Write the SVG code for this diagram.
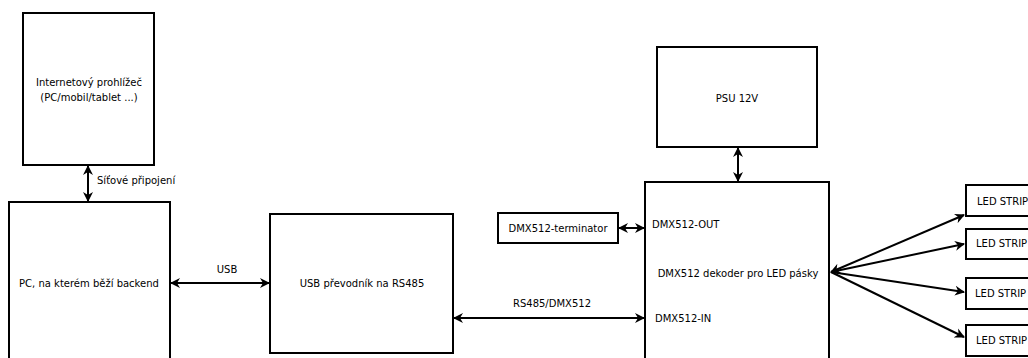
<svg xmlns="http://www.w3.org/2000/svg" width="1028" height="358" viewBox="0 0 1028 358">
<style>
.box{fill:#fff;stroke:#000;stroke-width:2}
.t{font-family:"DejaVu Sans",sans-serif;font-size:10px;fill:#000}
.c{text-anchor:middle}
.ln{stroke:#000;stroke-width:2;fill:none;marker-start:url(#ah);marker-end:url(#ah)}
.ln1{stroke:#000;stroke-width:2;fill:none;marker-end:url(#ah)}
</style>
<defs>
<marker id="ah" viewBox="0 0 10 10" refX="9" refY="5" markerWidth="10" markerHeight="11" markerUnits="userSpaceOnUse" orient="auto-start-reverse">
<path d="M0,0 L10,5 L0,10 L3,5 z" fill="#000"/>
</marker>
</defs>
<rect width="1028" height="358" fill="#fff"/>
<g id="connectors">
<line class="ln" x1="88" y1="166" x2="88" y2="201"/>
<text class="t" x="97" y="184">Síťové připojení</text>
<line class="ln" x1="171" y1="283" x2="269" y2="283"/>
<text class="t c" x="227" y="273">USB</text>
<line class="ln" x1="454" y1="318" x2="644" y2="318"/>
<text class="t c" x="552" y="307">RS485/DMX512</text>
<line class="ln" x1="619" y1="228" x2="644" y2="228"/>
<line class="ln" x1="738" y1="148" x2="738" y2="181"/>
<line class="ln" x1="831" y1="272" x2="964" y2="215"/>
<line class="ln1" x1="831" y1="272" x2="964" y2="244"/>
<line class="ln1" x1="831" y1="272" x2="964" y2="292"/>
<line class="ln1" x1="831" y1="272" x2="964" y2="337"/>
</g>
<g id="browser">
<rect class="box" x="23" y="13" width="131" height="152"/>
<text class="t c" x="89" y="86">Internetový prohlížeč</text>
<text class="t c" x="89" y="101">(PC/mobil/tablet ...)</text>
</g>
<g id="pc">
<rect class="box" x="9" y="202" width="161" height="170"/>
<text class="t c" x="89" y="287">PC, na kterém běží backend</text>
</g>
<g id="usb">
<rect class="box" x="270" y="214" width="183" height="139"/>
<text class="t c" x="362" y="287">USB převodník na RS485</text>
</g>
<g id="terminator">
<rect class="box" x="498" y="213" width="120" height="30"/>
<text class="t c" x="558" y="232">DMX512-terminator</text>
</g>
<g id="psu">
<rect class="box" x="657" y="47" width="160" height="100"/>
<text class="t c" x="737" y="102">PSU 12V</text>
</g>
<g id="decoder">
<rect class="box" x="645" y="182" width="184" height="190"/>
<text class="t" x="652" y="228">DMX512-OUT</text>
<text class="t c" x="738" y="277">DMX512 dekoder pro LED pásky</text>
<text class="t" x="655" y="322">DMX512-IN</text>
</g>
<g id="led1">
<rect class="box" x="966" y="185" width="80" height="31"/>
<text class="t" x="977" y="205">LED STRIP</text>
</g>
<g id="led2">
<rect class="box" x="966" y="229" width="80" height="30"/>
<text class="t" x="976" y="247">LED STRIP</text>
</g>
<g id="led3">
<rect class="box" x="966" y="278" width="80" height="31"/>
<text class="t" x="975" y="297">LED STRIP</text>
</g>
<g id="led4">
<rect class="box" x="966" y="325" width="80" height="31"/>
<text class="t" x="976" y="344">LED STRIP</text>
</g>
</svg>
